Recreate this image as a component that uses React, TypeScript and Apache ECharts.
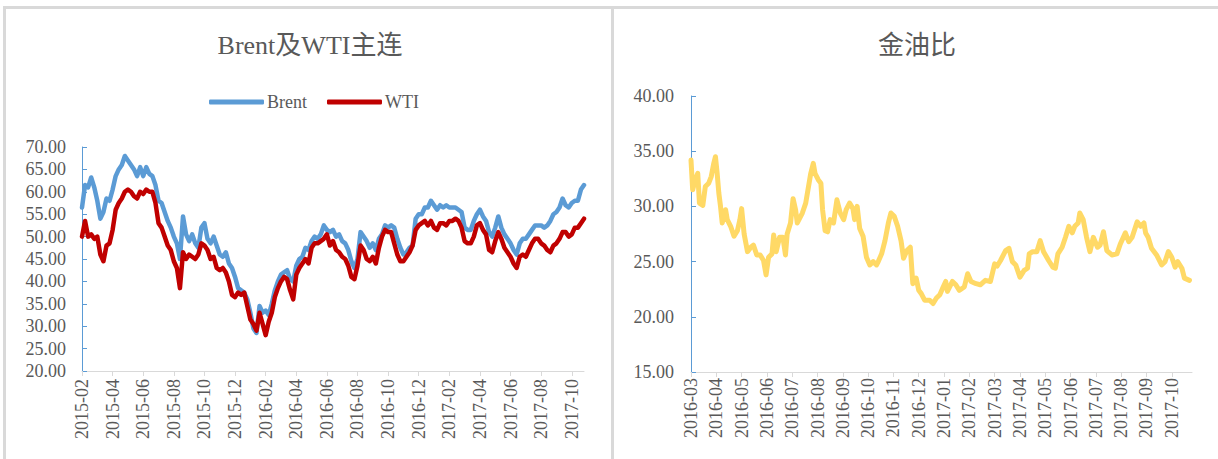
import React, { useEffect, useRef } from "react";
import * as echarts from "echarts";

// ---------- Left chart: Brent & WTI front-month (sampled on days 01/07/13/19/25 of each month) ----------
const oilMonths = [
  "2015-02", "2015-03", "2015-04", "2015-05", "2015-06", "2015-07", "2015-08", "2015-09", "2015-10", "2015-11", "2015-12",
  "2016-01", "2016-02", "2016-03", "2016-04", "2016-05", "2016-06", "2016-07", "2016-08", "2016-09", "2016-10", "2016-11", "2016-12",
  "2017-01", "2017-02", "2017-03", "2017-04", "2017-05", "2017-06", "2017-07", "2017-08", "2017-09", "2017-10",
];
const oilDays = ["01", "07", "13", "19", "25"];

const brent = [
  56.5, 61.5, 61.0, 63.2, 61.0,
  58.0, 54.0, 55.5, 58.5, 58.0,
  60.5, 63.5, 65.0, 66.0, 68.0,
  67.0, 66.0, 65.0, 63.5, 65.5,
  63.5, 65.5, 64.0, 63.5, 61.5,
  58.0, 57.5, 55.5, 53.5, 52.0,
  50.0, 48.5, 45.0, 54.5, 50.5,
  49.0, 50.5, 48.5, 47.5, 52.0,
  53.0, 49.5, 48.5, 50.0, 48.0,
  46.0, 45.5, 46.5, 44.0, 43.0,
  41.0, 38.5, 38.0, 37.5, 36.0,
  33.0, 29.5, 28.5, 34.5, 33.0,
  33.5, 32.5, 35.0, 38.0, 40.0,
  41.5, 42.0, 42.5, 40.5, 40.0,
  43.5, 45.0, 45.5, 47.5, 47.0,
  49.0, 50.0, 49.5, 50.5, 52.5,
  51.5, 51.0, 51.5, 50.0, 50.5,
  49.0, 48.5, 47.0, 44.5, 43.0,
  45.0, 51.0, 50.0, 49.0, 47.5,
  48.5, 47.0, 49.5, 50.5, 52.5,
  52.0, 52.5, 52.0, 49.5, 47.5,
  46.0, 46.5, 47.5, 48.0, 54.0,
  55.0, 55.0, 56.5, 56.5, 58.0,
  57.0, 56.0, 57.0, 56.5, 57.0,
  56.5, 56.5, 56.5, 56.0, 55.5,
  52.0, 51.5, 51.5, 53.5, 55.0,
  56.0, 54.5, 53.5, 51.0, 50.0,
  52.0, 54.5, 52.0, 50.5, 49.5,
  48.5, 47.0, 46.0, 48.5, 49.5,
  49.5, 50.5, 51.5, 52.5, 52.5,
  52.5, 52.0, 52.5, 53.5, 55.0,
  55.5, 56.5, 58.5, 57.0, 56.5,
  57.5, 58.0, 58.0, 60.5, 61.5,
];

const wti = [
  50.0, 53.5, 50.0, 50.5, 49.5,
  50.0, 46.0, 44.5, 48.0, 48.5,
  51.5, 56.0, 57.5, 58.5, 60.0,
  60.5, 60.0, 59.0, 58.5, 60.0,
  59.5, 60.5, 60.0, 60.0, 57.5,
  53.0, 52.0, 50.0, 48.0, 47.0,
  44.5, 43.0, 38.5, 46.5, 45.0,
  46.0, 45.5, 45.0, 46.0, 48.5,
  48.0, 47.0, 45.0, 45.5, 43.0,
  42.5, 43.0, 42.0, 40.0, 37.0,
  36.5, 37.5, 37.0, 37.5, 34.5,
  31.5, 30.5, 29.0, 33.0, 30.5,
  28.0, 31.0, 33.0, 36.5, 38.5,
  40.0, 41.0, 40.5, 38.0, 36.0,
  41.5, 43.0, 44.0, 45.0, 44.0,
  47.5, 48.5, 48.5, 49.0, 49.5,
  50.5, 48.0, 49.0, 47.0, 46.5,
  45.5, 45.0, 43.5, 41.0, 40.5,
  43.5, 48.0, 47.0, 45.0, 44.5,
  45.5, 44.0, 47.5, 50.0, 51.5,
  51.0, 51.0, 48.5, 46.0, 44.5,
  44.5, 45.5, 46.5, 48.0, 51.5,
  52.5, 53.0, 53.5, 52.5, 53.5,
  52.0, 51.5, 53.0, 53.0, 52.5,
  53.5, 53.5, 54.0, 53.5, 52.0,
  49.0, 48.5, 48.5, 50.0, 52.5,
  53.0, 51.5, 50.5, 47.0, 46.5,
  49.0, 51.0, 49.5, 47.5, 46.5,
  45.5, 44.0, 43.0, 45.5, 46.0,
  45.5, 47.0, 48.5, 49.5, 49.5,
  48.5, 48.0, 47.0, 46.5, 48.0,
  48.5, 49.5, 51.0, 51.0, 50.0,
  50.5, 52.0, 52.0, 53.0, 54.0,
];

const oilTickLabels = [
  "2015-02", "2015-04", "2015-06", "2015-08", "2015-10", "2015-12",
  "2016-02", "2016-04", "2016-06", "2016-08", "2016-10", "2016-12",
  "2017-02", "2017-04", "2017-06", "2017-08", "2017-10",
];
const oilEnd = "2017-10-25";

// ---------- Right chart: gold / oil ratio ----------
const goldDates = [
  "2016-03-01", "2016-03-03", "2016-03-06", "2016-03-09", "2016-03-11", "2016-03-15", "2016-03-18", "2016-03-22", "2016-03-25", "2016-03-28", "2016-03-30",
  "2016-04-02", "2016-04-04", "2016-04-06", "2016-04-08", "2016-04-12", "2016-04-14", "2016-04-18", "2016-04-22", "2016-04-26", "2016-04-29",
  "2016-05-01", "2016-05-04", "2016-05-08", "2016-05-12", "2016-05-15", "2016-05-19", "2016-05-23", "2016-05-27", "2016-05-30",
  "2016-06-03", "2016-06-07", "2016-06-09", "2016-06-12", "2016-06-16", "2016-06-20", "2016-06-23", "2016-06-25", "2016-06-29",
  "2016-07-02", "2016-07-05", "2016-07-07", "2016-07-13", "2016-07-17", "2016-07-21", "2016-07-23", "2016-07-26", "2016-07-28",
  "2016-08-02", "2016-08-05", "2016-08-07", "2016-08-10", "2016-08-13", "2016-08-16", "2016-08-20", "2016-08-24", "2016-08-28",
  "2016-09-02", "2016-09-05", "2016-09-09", "2016-09-13", "2016-09-15", "2016-09-18", "2016-09-21", "2016-09-25", "2016-09-29",
  "2016-10-03", "2016-10-07", "2016-10-11", "2016-10-13", "2016-10-17", "2016-10-21", "2016-10-25", "2016-10-28",
  "2016-11-02", "2016-11-06", "2016-11-10", "2016-11-13", "2016-11-17", "2016-11-21", "2016-11-24", "2016-11-28",
  "2016-12-01", "2016-12-04", "2016-12-08", "2016-12-14", "2016-12-18", "2016-12-22", "2016-12-26", "2016-12-30",
  "2017-01-03", "2017-01-05", "2017-01-11", "2017-01-15", "2017-01-19", "2017-01-25", "2017-01-29",
  "2017-02-03", "2017-02-09", "2017-02-14", "2017-02-20", "2017-02-26",
  "2017-03-01", "2017-03-04", "2017-03-08", "2017-03-14", "2017-03-18", "2017-03-22", "2017-03-26", "2017-03-31",
  "2017-04-06", "2017-04-10", "2017-04-12", "2017-04-16", "2017-04-21", "2017-04-25", "2017-04-29",
  "2017-05-05", "2017-05-10", "2017-05-13", "2017-05-16", "2017-05-21", "2017-05-25", "2017-05-29",
  "2017-06-03", "2017-06-06", "2017-06-10", "2017-06-12", "2017-06-16", "2017-06-20", "2017-06-24", "2017-06-28",
  "2017-07-03", "2017-07-06", "2017-07-10", "2017-07-14", "2017-07-20", "2017-07-26", "2017-07-30",
  "2017-08-06", "2017-08-10", "2017-08-14", "2017-08-20", "2017-08-24", "2017-08-28", "2017-08-30",
  "2017-09-03", "2017-09-07", "2017-09-13", "2017-09-19", "2017-09-23", "2017-09-27",
  "2017-10-01", "2017-10-05", "2017-10-08", "2017-10-13", "2017-10-16", "2017-10-22",
];
const goldOilRatio = [
  34.2, 31.5, 32.4, 33.0, 30.3, 30.1, 31.8, 32.1, 32.7, 33.9, 34.5,
  33.0, 31.2, 30.0, 28.5, 29.7, 28.8, 28.2, 27.3, 27.8, 28.8,
  29.8, 27.5, 25.9, 26.3, 26.5, 25.6, 25.6, 25.1, 23.8,
  25.4, 25.7, 27.4, 25.9, 27.2, 27.2, 25.6, 27.5, 28.5,
  30.7, 29.7, 28.5, 29.4, 30.3, 32.1, 33.0, 33.9, 33.0,
  32.4, 32.1, 29.7, 27.8, 27.7, 28.8, 28.5, 30.6, 29.4,
  28.8, 29.7, 30.3, 29.8, 28.8, 30.0, 28.0, 27.3, 25.4,
  24.7, 25.0, 24.7, 25.0, 25.7, 26.9, 28.5, 29.4,
  29.1, 28.2, 26.9, 25.3, 26.0, 26.3, 23.0, 23.5,
  22.4, 22.1, 21.5, 21.5, 21.2, 21.7, 22.0, 22.7,
  23.2, 22.3, 23.2, 22.9, 22.4, 22.7, 23.9,
  23.2, 23.0, 22.9, 23.3, 23.2,
  24.8, 24.6, 25.1, 26.0, 26.2, 25.0, 24.7, 23.6,
  24.2, 24.4, 25.7, 25.9, 25.9, 26.9, 25.9,
  25.1, 24.5, 24.4, 25.7, 26.3, 27.2, 28.2,
  27.6, 28.2, 28.5, 29.4, 28.8, 27.2, 25.9, 27.2,
  26.3, 26.5, 27.7, 26.0, 25.6, 25.7, 26.6,
  27.6, 26.8, 27.2, 28.6, 28.2, 28.5, 27.6,
  27.2, 26.2, 25.6, 24.7, 25.0, 25.9,
  25.4, 24.5, 25.0, 24.4, 23.5, 23.3,
];
const goldTickLabels = [
  "2016-03", "2016-04", "2016-05", "2016-06", "2016-07", "2016-08", "2016-09", "2016-10", "2016-11", "2016-12",
  "2017-01", "2017-02", "2017-03", "2017-04", "2017-05", "2017-06", "2017-07", "2017-08", "2017-09", "2017-10",
];
const goldEnd = "2017-10-25";

// ---------- helpers ----------
const monthIndex = (s: string, base: string) => {
  const [y, m, d] = s.split("-").map(Number);
  const [by, bm] = base.split("-").map(Number);
  return (y - by) * 12 + (m - bm) + ((d || 1) - 1) / 30;
};

const SERIF = "'Liberation Serif', 'Times New Roman', 'Noto Sans CJK SC', serif";
const TITLE_FONT = "'Liberation Serif', 'Times New Roman', 'Noto Sans CJK SC', sans-serif";
const LABEL = "#595959";

export default function App() {
  const ref = useRef<HTMLDivElement>(null);

  useEffect(() => {
    document.body.style.margin = "0";
    if (!ref.current) return;
    const chart = echarts.init(ref.current, undefined, { renderer: "svg" });

    const oilBase = oilTickLabels[0];
    const oilDates = oilMonths.flatMap((m) => oilDays.map((d) => `${m}-${d}`));
    const oilTickVals = oilTickLabels.map((t) => monthIndex(t, oilBase));
    const oilLabelMap: Record<string, string> = {};
    oilTickLabels.forEach((t, i) => (oilLabelMap[String(oilTickVals[i])] = t));

    const goldBase = goldTickLabels[0];
    const goldTickVals = goldTickLabels.map((t) => monthIndex(t, goldBase));
    const goldLabelMap: Record<string, string> = {};
    goldTickLabels.forEach((t, i) => (goldLabelMap[String(goldTickVals[i])] = t));

    const yAxisCommon = {
      type: "value" as const,
      interval: 5,
      axisLine: { show: true, lineStyle: { color: "#5B9BD5", width: 1 } },
      axisTick: { show: true, inside: true, length: 5, lineStyle: { color: "#5B9BD5" } },
      splitLine: { show: false },
    };
    const xAxisCommon = {
      type: "value" as const,
      axisLine: { show: true, onZero: false, lineStyle: { color: "#D9D9D9", width: 1 } },
      splitLine: { show: false },
    };

    chart.setOption({
      animation: false,
      graphic: [
        { type: "rect", silent: true, shape: { x: 3, y: 6, width: 1215, height: 3 }, style: { fill: "#D9D9D9" } },
        { type: "rect", silent: true, shape: { x: 3, y: 6, width: 3, height: 453 }, style: { fill: "#D9D9D9" } },
        { type: "rect", silent: true, shape: { x: 611, y: 6, width: 3, height: 453 }, style: { fill: "#D9D9D9" } },
        {
          type: "text", silent: true, x: 310, y: 45,
          style: { text: "Brent及WTI主连", fontSize: 26, fontFamily: TITLE_FONT, fill: LABEL, align: "center", verticalAlign: "middle" },
        },
        {
          type: "text", silent: true, x: 917, y: 45,
          style: { text: "金油比", fontSize: 26, fontFamily: TITLE_FONT, fill: LABEL, align: "center", verticalAlign: "middle" },
        },
      ],
      legend: {
        left: 204,
        top: 88,
        itemWidth: 55,
        itemHeight: 5,
        itemGap: 20,
        icon: "roundRect",
        data: ["Brent", "WTI"],
        textStyle: { fontSize: 18, fontFamily: SERIF, color: LABEL, padding: [0, 0, 0, -2] },
      },
      grid: [
        { left: 82, top: 147, width: 502, height: 224 },
        { left: 691, top: 96, width: 501, height: 276 },
      ],
      xAxis: [
        {
          ...xAxisCommon,
          gridIndex: 0,
          min: 0,
          max: monthIndex(oilEnd, oilBase),
          interval: 2,
          axisTick: { show: true, length: 5, customValues: oilTickVals, lineStyle: { color: "#D9D9D9" } },
          axisLabel: {
            customValues: oilTickVals,
            rotate: 90,
            margin: 8,
            fontSize: 18,
            fontFamily: SERIF,
            color: LABEL,
            formatter: (v: number) => oilLabelMap[String(v)] ?? "",
          },
        },
        {
          ...xAxisCommon,
          gridIndex: 1,
          min: 0,
          max: monthIndex(goldEnd, goldBase),
          interval: 1,
          axisTick: { show: true, length: 5, customValues: goldTickVals, lineStyle: { color: "#D9D9D9" } },
          axisLabel: {
            customValues: goldTickVals,
            rotate: 90,
            margin: 6,
            fontSize: 18,
            fontFamily: SERIF,
            color: LABEL,
            formatter: (v: number) => goldLabelMap[String(v)] ?? "",
          },
        },
      ],
      yAxis: [
        {
          ...yAxisCommon,
          gridIndex: 0,
          min: 20,
          max: 70,
          axisLabel: { margin: 16, fontSize: 18, fontFamily: SERIF, color: LABEL, formatter: (v: number) => v.toFixed(2) },
        },
        {
          ...yAxisCommon,
          gridIndex: 1,
          min: 15,
          max: 40,
          axisLabel: { margin: 17, fontSize: 18, fontFamily: SERIF, color: LABEL, formatter: (v: number) => v.toFixed(2) },
        },
      ],
      series: [
        {
          name: "Brent",
          type: "line",
          xAxisIndex: 0,
          yAxisIndex: 0,
          showSymbol: false,
          symbol: "none",
          color: "#5B9BD5",
          lineStyle: { width: 4.5, color: "#5B9BD5", cap: "round", join: "round" },
          data: oilDates.map((d, i) => [monthIndex(d, oilBase), brent[i]]),
        },
        {
          name: "WTI",
          type: "line",
          xAxisIndex: 0,
          yAxisIndex: 0,
          showSymbol: false,
          symbol: "none",
          color: "#C00000",
          lineStyle: { width: 4.5, color: "#C00000", cap: "round", join: "round" },
          data: oilDates.map((d, i) => [monthIndex(d, oilBase), wti[i]]),
        },
        {
          name: "金油比",
          type: "line",
          xAxisIndex: 1,
          yAxisIndex: 1,
          showSymbol: false,
          symbol: "none",
          color: "#FFD966",
          lineStyle: { width: 5, color: "#FFD966", cap: "round", join: "round" },
          data: goldDates.map((d, i) => [monthIndex(d, goldBase), goldOilRatio[i]]),
        },
      ],
    });

    return () => chart.dispose();
  }, []);

  return <div ref={ref} style={{ width: 1218, height: 459 }} />;
}
